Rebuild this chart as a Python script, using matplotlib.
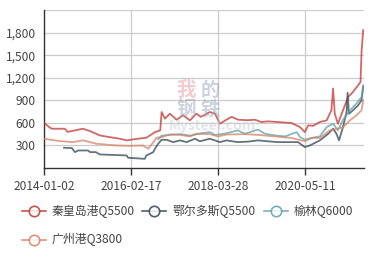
import matplotlib
matplotlib.use("Agg")
import matplotlib.pyplot as plt
import pandas as pd
from matplotlib.lines import Line2D

plt.rcParams['font.family'] = ['Noto Sans CJK SC', 'DejaVu Sans']

# 秦皇岛港Q5500
qhd_dates = ["2014-01-02", "2014-02-16", "2014-03-12", "2014-07-05", "2014-08-01", "2014-12-14",
             "2015-02-16", "2015-05-14", "2015-08-10", "2015-11-07", "2016-01-10", "2016-03-02",
             "2016-07-01", "2016-09-15", "2016-11-01", "2016-11-13", "2016-12-13", "2017-01-25",
             "2017-03-26", "2017-05-23", "2017-07-23", "2017-09-19", "2017-10-28", "2018-01-16",
             "2018-03-02", "2018-04-16", "2018-06-13", "2018-07-28", "2018-09-24", "2018-12-19",
             "2019-02-21", "2019-04-19", "2019-06-16", "2019-09-12", "2020-01-11", "2020-03-28",
             "2020-05-10", "2020-06-09", "2020-07-22", "2020-09-20", "2020-11-20", "2021-01-01",
             "2021-01-16", "2021-01-31", "2021-02-28", "2021-04-14", "2021-05-30", "2021-07-12",
             "2021-08-27", "2021-09-17", "2021-09-26", "2021-10-11"]
qhd_vals = [600, 545, 522, 522, 480, 522,
            490, 433, 410, 389, 367, 380,
            403, 477, 500, 744, 656, 722,
            642, 700, 633, 722, 680, 744,
            722, 589, 642, 680, 642, 635,
            642, 611, 620, 611, 598, 544,
            477, 567, 560, 611, 633, 767,
            1056, 722, 589, 767, 944, 1011,
            1100, 1144, 1544, 1833]

# 鄂尔多斯Q5500
ords_dates = ["2014-06-29", "2014-09-07", "2014-10-04", "2014-11-02", "2015-01-28", "2015-02-16",
              "2015-04-08", "2015-05-14", "2016-01-07", "2016-01-20", "2016-06-16", "2016-07-01",
              "2016-08-01", "2016-08-31", "2016-09-15", "2016-10-13", "2016-11-13", "2016-12-28",
              "2017-02-24", "2017-04-25", "2017-06-23", "2017-09-07", "2017-10-19", "2018-01-16",
              "2018-04-16", "2018-06-13", "2018-09-22", "2018-12-19", "2019-03-20", "2019-06-16",
              "2019-09-12", "2019-12-10", "2020-03-10", "2020-05-10", "2020-06-24", "2020-09-20",
              "2020-12-05", "2021-01-16", "2021-02-15", "2021-03-10", "2021-04-14", "2021-05-16",
              "2021-05-25", "2021-06-06", "2021-07-12", "2021-08-27", "2021-09-26", "2021-10-11"]
ords_vals = [269, 265, 211, 233, 233, 211,
             211, 180, 167, 136, 122, 167,
             189, 211, 256, 322, 375, 375,
             344, 367, 344, 389, 355, 389,
             344, 367, 344, 350, 367, 355,
             344, 344, 344, 278, 300, 367,
             456, 522, 456, 367, 544, 744,
             1000, 720, 767, 833, 900, 1078]

# 榆林Q6000
yl_dates = ["2016-10-13", "2016-11-13", "2017-01-25", "2017-04-25", "2017-07-23", "2017-10-28",
            "2018-01-16", "2018-03-02", "2018-05-29", "2018-09-22", "2018-11-25", "2019-03-20",
            "2019-05-20", "2019-08-16", "2019-11-16", "2020-02-27", "2020-03-28", "2020-05-10",
            "2020-07-10", "2020-09-20", "2020-11-20", "2021-01-16", "2021-02-28", "2021-04-14",
            "2021-06-15", "2021-08-12", "2021-09-26", "2021-10-11"]
yl_vals = [380, 430, 440, 450, 430, 460,
           477, 440, 456, 500, 456, 511,
           456, 433, 420, 477, 411, 375,
           400, 420, 544, 589, 500, 640,
           767, 856, 944, 1100]

# 广州港Q3800
gz_dates = ["2014-01-02", "2014-05-23", "2014-09-16", "2014-12-17", "2015-04-14", "2015-10-08",
            "2016-02-04", "2016-05-29", "2016-07-17", "2016-08-31", "2016-09-29", "2016-11-13",
            "2017-01-25", "2017-04-25", "2017-07-23", "2017-09-19", "2018-01-16", "2018-03-28",
            "2018-06-13", "2018-11-25", "2019-03-20", "2019-08-16", "2020-01-11", "2020-05-10",
            "2020-07-10", "2020-09-20", "2020-12-19", "2021-02-15", "2021-04-14", "2021-06-15",
            "2021-08-12", "2021-09-26", "2021-10-11"]
gz_vals = [389, 357, 345, 367, 322, 300,
           295, 300, 256, 340, 403, 410,
           447, 440, 420, 456, 450, 420,
           445, 450, 440, 420, 400, 356,
           400, 400, 500, 520, 540, 633,
           700, 767, 900]

series_names = ["秦皇岛港Q5500", "鄂尔多斯Q5500", "榆林Q6000", "广州港Q3800"]
colors = ["#c23531", "#2f4554", "#61a0a8", "#d48265"]
tick_dates = ["2014-01-02", "2016-02-17", "2018-03-28", "2020-05-11"]
y_ticks = [300, 600, 900, 1200, 1500, 1800]

fig = plt.figure(figsize=(3.71, 2.58), dpi=100)
ax = fig.add_axes([44 / 371, 90 / 258, 320 / 371, 158 / 258])

all_series = [(qhd_dates, qhd_vals), (ords_dates, ords_vals), (yl_dates, yl_vals), (gz_dates, gz_vals)]
for (d, v), c in zip(all_series, colors):
    ax.plot(pd.to_datetime(d), v, color=c, lw=1.3, alpha=0.75, zorder=3)

ax.set_ylim(0, 2100)
ax.set_xlim(pd.Timestamp("2014-01-02"), pd.Timestamp("2021-10-18"))
ax.set_yticks(y_ticks)
ax.set_yticklabels([f"{t:,}" for t in y_ticks])
ax.set_xticks(pd.to_datetime(tick_dates))
ax.set_xticklabels(tick_dates)

# grid
for t in y_ticks + [2100]:
    ax.axhline(t, color="#cccccc", lw=0.9, zorder=1)
for t in pd.to_datetime(tick_dates)[1:]:
    ax.axvline(t, color="#cccccc", lw=0.9, zorder=1)

for s in ["top", "right"]:
    ax.spines[s].set_visible(False)
for s in ["left", "bottom"]:
    ax.spines[s].set_color("#333333")
    ax.spines[s].set_linewidth(1.0)
ax.tick_params(axis="y", length=0, pad=6, labelsize=8.6, labelcolor="#444444")
ax.tick_params(axis="x", length=5, width=1.0, color="#333333", pad=4, labelsize=8.6, labelcolor="#444444")

# watermark
wm = [("我", 186, 90, "#e59aa3", 14), ("的", 210, 90, "#9aa8c0", 14),
      ("钢", 186, 110, "#9aa8c0", 14), ("铁", 210, 110, "#9aa8c0", 14),
      ("Mysteel.com", 212, 126, "#c8cdd8", 10)]
for txt, wx, wy, wc, fs in wm:
    fig.text(wx / 371, 1 - wy / 258, txt, color=wc, fontsize=fs, fontweight="bold",
             ha="center", va="center", alpha=0.5)

# legend
legend_pos = [(22, 211), (142, 211), (264, 211), (22, 240)]
for name, c, (lx, ly) in zip(series_names, colors, legend_pos):
    yy = 1 - ly / 258
    fig.add_artist(Line2D([lx / 371, (lx + 24) / 371], [yy, yy], color=c, lw=1.2, alpha=0.85,
                          transform=fig.transFigure))
    fig.add_artist(Line2D([(lx + 12) / 371], [yy], color=c, marker="o", markersize=7.5,
                          markerfacecolor="white", markeredgewidth=1.2, alpha=0.85,
                          transform=fig.transFigure))
    fig.text((lx + 30) / 371, yy, name, fontsize=8.6, color="#444444", va="center", ha="left")

fig.savefig("out.png", dpi=100)
